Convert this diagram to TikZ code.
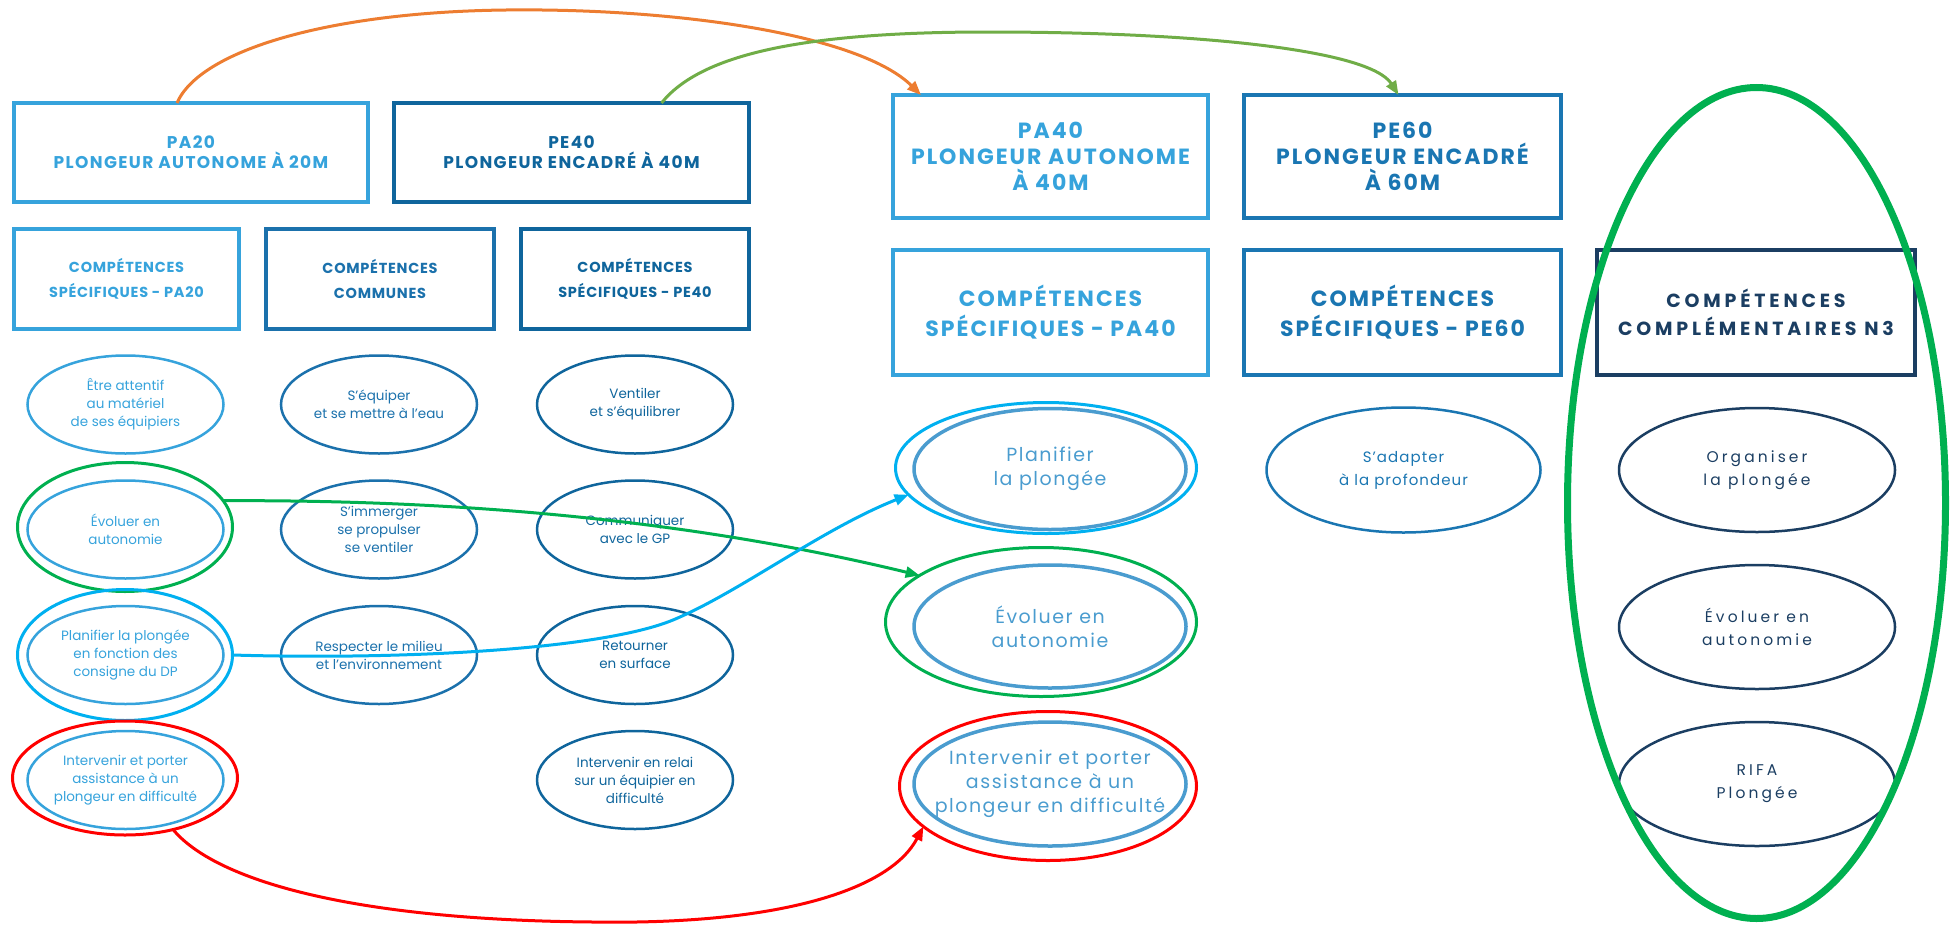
\documentclass[tikz,border=0pt]{standalone}
\usepackage{fontspec}
\setmainfont{Poppins}
\newfontfamily\capsfont[LetterSpace=5]{Poppins}
\newfontfamily\topfont[LetterSpace=8]{Poppins}
\newfontfamily\bigcapsfont[LetterSpace=9]{Poppins}
\newfontfamily\widefont[LetterSpace=20]{Poppins}
\newfontfamily\nfont[LetterSpace=20]{Poppins}
\newfontfamily\midfont[LetterSpace=8]{Poppins}
\newfontfamily\sfont[LetterSpace=7]{Poppins}
\usetikzlibrary{shapes.geometric,arrows.meta}
\definecolor{paB}{HTML}{36A3DC}
\definecolor{comB}{HTML}{1B71AC}
\definecolor{peB}{HTML}{0F659C}
\definecolor{pesixB}{HTML}{1A76B2}
\definecolor{navy}{HTML}{1B3E62}
\definecolor{paE}{HTML}{4A9CCF}
\definecolor{annO}{HTML}{ED7D31}
\definecolor{annLG}{HTML}{70AD47}
\definecolor{annG}{HTML}{00B050}
\definecolor{annB}{HTML}{00B0F0}
\definecolor{annR}{HTML}{FF0000}
\tikzset{
  hbox/.style={draw=#1, text=#1, line width=4pt, inner sep=0pt, outer sep=0pt, align=center},
  smallhead/.style={font=\topfont\bfseries\fontsize{17}{20}\selectfont},
  spechead/.style={font=\capsfont\bfseries\fontsize{14.5}{25}\selectfont},
  bighead/.style={font=\bigcapsfont\bfseries\fontsize{22}{26}\selectfont},
  bigspec/.style={font=\bigcapsfont\bfseries\fontsize{22}{30}\selectfont},
  nthree/.style={font=\widefont\bfseries\fontsize{19}{28}\selectfont},
  skill/.style={ellipse, draw=#1, line width=2.5pt, inner sep=0pt, outer sep=0pt,
    minimum width=196pt, minimum height=98pt},
  bigskill/.style={ellipse, draw=#1, line width=3.5pt, inner sep=0pt, outer sep=0pt, minimum width=272pt},
  nskill/.style={ellipse, draw=navy, line width=2.5pt, inner sep=0pt, outer sep=0pt,
    minimum width=276pt, minimum height=124pt},
  stext/.style={text=#1, align=center, inner sep=0pt, font=\fontsize{13.5}{18}\selectfont},
  bigtext/.style={text=#1, align=center, inner sep=0pt, font=\midfont\fontsize{19}{24}\selectfont},
  ntext/.style={text=navy, align=center, inner sep=0pt, font=\nfont\fontsize{15.5}{23}\selectfont},
  ring/.style={ellipse, draw=#1, line width=3pt, inner sep=0pt, outer sep=0pt},
  link/.style={draw=#1, line width=3pt, -{Triangle[length=14pt,width=11pt]}}
}
\begin{document}
\begin{tikzpicture}[x=1pt,y=-1pt]
\useasboundingbox (0,0) rectangle (1950,926);
% top level boxes
\node[hbox=paB, smallhead, minimum width=354pt, minimum height=99pt] (pa20) at (191,152.5) {PA20\\PLONGEUR AUTONOME À 20M};
\node[hbox=peB, smallhead, minimum width=355pt, minimum height=99pt] (pe40) at (571.5,152.5) {PE40\\PLONGEUR ENCADRÉ À 40M};
\node[hbox=paB, spechead, minimum width=225pt, minimum height=100pt] (specpa20) at (126.5,279) {COMPÉTENCES\\SPÉCIFIQUES - PA20};
\node[hbox=comB, spechead, minimum width=228pt, minimum height=100pt] (communes) at (380,279) {COMPÉTENCES\\COMMUNES};
\node[hbox=peB, spechead, minimum width=228pt, minimum height=100pt] (specpe40) at (635,279) {COMPÉTENCES\\SPÉCIFIQUES - PE40};
\node[hbox=paB, bighead, minimum width=315pt, minimum height=123pt] (pa40) at (1050.5,156.5) {PA40\\PLONGEUR AUTONOME\\À 40M};
\node[hbox=pesixB, bighead, minimum width=317pt, minimum height=123pt] (pe60) at (1402.5,156.5) {PE60\\PLONGEUR ENCADRÉ\\À 60M};
\node[hbox=paB, bigspec, minimum width=315pt, minimum height=125pt] (specpa40) at (1050.5,312.5) {COMPÉTENCES\\SPÉCIFIQUES - PA40};
\node[hbox=pesixB, bigspec, minimum width=317pt, minimum height=125pt] (specpe60) at (1402.5,312.5) {COMPÉTENCES\\SPÉCIFIQUES - PE60};
\node[hbox=navy, nthree, minimum width=318pt, minimum height=125pt] (specnthree) at (1756,312.5) {COMPÉTENCES\\COMPLÉMENTAIRES N3};
% PA20 column
\node[skill=paB] (ea) at (125.5,404.5) {};
\node[stext=paB] (eatx) at (ea) {Être attentif\\au matériel\\de ses équipiers};
\node[skill=paB] (eb) at (125.5,529.5) {};
\node[stext=paB] (ebtx) at (eb) {Évoluer en\\autonomie};
\node[skill=paB] (ec) at (125.5,655) {};
\node[stext=paB] (ectx) at (ec) {Planifier la plongée\\en fonction des\\consigne du DP};
\node[skill=paB] (ed) at (125.5,780) {};
\node[stext=paB] (edtx) at (ed) {Intervenir et porter\\assistance à un\\plongeur en difficulté};
% communes
\node[skill=comB] (ca) at (379,404.5) {};
\node[stext=comB] (catx) at (ca) {S’équiper\\et se mettre à l’eau};
\node[skill=comB] (cb) at (379,529.5) {};
\node[stext=comB] (cbtx) at (cb) {S’immerger\\se propulser\\se ventiler};
\node[skill=comB] (cc) at (379,655) {};
\node[stext=comB] (cctx) at (cc) {Respecter le milieu\\et l’environnement};
% PE40
\node[skill=peB] (pa) at (635,404.5) {};
\node[stext=peB] (patx) at (pa) {Ventiler\\et s’équilibrer};
\node[skill=peB] (pb) at (635,529.5) {};
\node[stext=peB] (pbtx) at (pb) {Communiquer\\avec le GP};
\node[skill=peB] (pc) at (635,655) {};
\node[stext=peB] (pctx) at (pc) {Retourner\\en surface};
\node[skill=peB] (pd) at (635,780) {};
\node[stext=peB] (pdtx) at (pd) {Intervenir en relai\\sur un équipier en\\difficulté};
% PA40
\node[bigskill=paE, minimum height=121pt] (aa) at (1050,469) {};
\node[bigtext=paE] (aatx) at (aa) {Planifier\\la plongée};
\node[bigskill=paE, minimum height=123pt] (ab) at (1050,626.5) {};
\node[bigtext=paE] (abtx) at (ab) {Évoluer en\\autonomie};
\node[bigskill=paE, minimum height=124pt] (ac) at (1050,784) {};
\node[bigtext=paE] (actx) at (ac) {Intervenir et porter\\assistance à un\\plongeur en difficulté};
% PE60
\node[skill=pesixB, minimum width=274pt, minimum height=125pt] (sa) at (1403.5,470) {};
\node[stext=pesixB, font=\sfont\fontsize{15}{23}\selectfont] (satx) at (sa) {S’adapter\\à la profondeur};
% N3
\node[nskill] (na) at (1757,470) {};
\node[ntext] (natx) at (na) {Organiser\\la plongée};
\node[nskill] (nb) at (1757,627) {};
\node[ntext] (nbtx) at (nb) {Évoluer en\\autonomie};
\node[nskill] (nc) at (1757,784) {};
\node[ntext] (nctx) at (nc) {RIFA\\Plongée};
% annotation rings
\node[ring=annG, minimum width=215pt, minimum height=129pt] (gA) at (125,527) {};
\node[ring=annB, minimum width=215pt, minimum height=131pt] (bA) at (125,655) {};
\node[ring=annR, minimum width=225pt, minimum height=114pt] (rA) at (125,778) {};
\node[ring=annB, minimum width=301pt, minimum height=131pt] (bB) at (1046,468) {};
\node[ring=annG, minimum width=311pt, minimum height=149pt] (gB) at (1041,622) {};
\node[ring=annR, minimum width=297pt, minimum height=149pt] (rB) at (1048,786) {};
\node[ring=annG, line width=7pt, minimum width=378pt, minimum height=831pt] (bigG) at (1756.5,503) {};
% connectors
\draw[link=annO] ([xshift=-14pt]pa20.north) .. controls (200,50) and (330,12) .. (506,10) .. controls (680,8) and (860,35) .. ([xshift=28pt]pa40.north west);
\draw[link=annLG] ([xshift=90pt]pe40.north) .. controls (700,55) and (800,32) .. (988,32) .. controls (1200,32) and (1370,50) .. ([xshift=-4pt]pe60.north);
\draw[link=annG] (gA.15) .. controls (400,500) and (650,510) .. (gB.159);
\draw[link=annB] (bA.east) .. controls (400,660) and (600,650) .. (673,620) .. controls (740,592) and (820,530) .. (bB.191);
\draw[link=annR] (rA.-47) .. controls (215,880) and (350,920) .. (593,922) .. controls (780,925) and (890,890) .. (rB.198);
\end{tikzpicture}
\end{document}
